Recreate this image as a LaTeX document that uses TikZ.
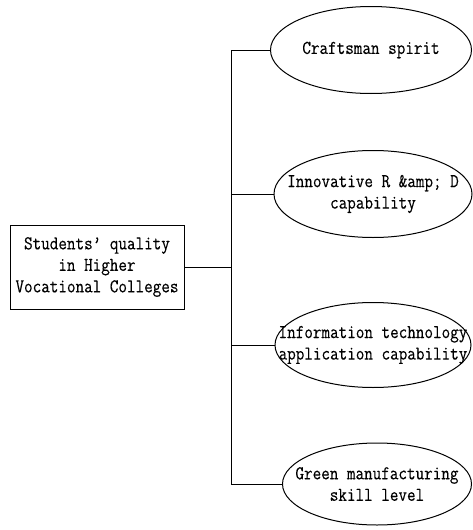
\documentclass[tikz,border=0pt]{standalone}
\usepackage{fontspec}
\setmonofont{Latin Modern Mono}[FakeStretch=0.85,FakeBold=0.3]
\usetikzlibrary{shapes.geometric}

\begin{document}
\begin{tikzpicture}[
  x=1pt,y=-1pt,
  font=\ttfamily\fontsize{19.6}{21.5}\selectfont,
  line width=1pt,
  rootbox/.style={draw,rectangle,align=center,inner sep=0pt,minimum width=174pt,minimum height=84pt},
  aspect/.style={draw,ellipse,inner sep=0pt,minimum width=#1,minimum height=87pt},
  caption/.style={align=center,inner sep=0pt},
  link/.style={draw}
]
\useasboundingbox (0,0) rectangle (472,530);

% root
\node[rootbox] (quality) at (97,267) {Students’ quality\\in Higher\\Vocational Colleges};

% aspects
\node[aspect=201pt] (spirit) at (371,50) {};
\node[caption] (spirit-text) at (spirit) {Craftsman spirit};
\node[aspect=198pt] (rd) at (373,194) {};
\node[caption] (rd-text) at (rd) {Innovative R \&amp; D\\capability};
\node[aspect=196pt,minimum height=85pt] (it) at (373,345) {};
\node[caption] (it-text) at (it) {Information technology\\application capability};
\node[aspect=189pt,minimum height=82pt] (green) at (377,484) {};
\node[caption] (green-text) at (green) {Green manufacturing\\skill level};

% trunk
\coordinate (trunk) at (231,267);
\draw[link] (spirit.west) -- (spirit.west -| trunk) -- (green.west -| trunk) -- (green.west);
\draw[link] (rd.west) -- (rd.west -| trunk);
\draw[link] (it.west) -- (it.west -| trunk);
\draw[link] (quality.east) -- (quality.east -| trunk);
\end{tikzpicture}
\end{document}
